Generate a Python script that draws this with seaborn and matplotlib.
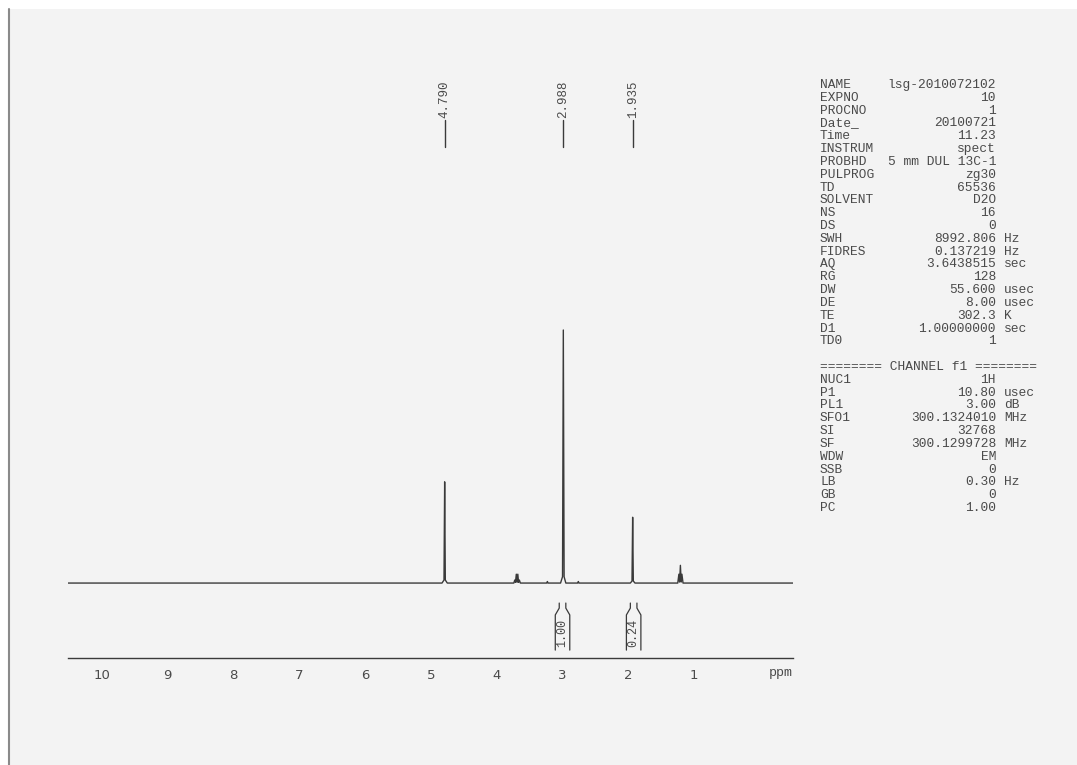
import matplotlib
matplotlib.use("Agg")
import matplotlib.pyplot as plt
import matplotlib.transforms as mtransforms
from matplotlib.ticker import MultipleLocator, FixedLocator, FixedFormatter
import seaborn as sns

# ---------------- data ----------------
# spectrum vertices (ppm, relative intensity; tallest peak = 100)
spec_ppm = [10.51, 4.83, 4.80, 4.790, 4.78, 4.75,
            3.74, 3.725, 3.714, 3.702, 3.690, 3.679, 3.668, 3.656, 3.64,
            3.24, 3.23, 3.22,
            3.03, 3.00, 2.988, 2.976, 2.95,
            2.77, 2.76, 2.75,
            1.97, 1.945, 1.935, 1.925, 1.90,
            1.25, 1.233, 1.222, 1.210, 1.198, 1.187, 1.17,
            -0.50]
spec_int = [0, 0, 1.2, 40, 1.2, 0,
            0, 1.2, 0.3, 3.5, 0.3, 3.5, 0.3, 1.2, 0,
            0, 0.6, 0,
            0, 2.5, 100, 2.5, 0,
            0, 0.6, 0,
            0, 0.8, 26, 0.8, 0,
            0, 3.5, 0.4, 7, 0.4, 3.5, 0,
            0]

peak_pos = [4.790, 2.988, 1.935]
peak_labels = ["4.790", "2.988", "1.935"]

integral_centres = [3.00, 1.92]
integral_labels = ["1.00", "0.24"]

tick_values = [0, 1, 2, 3, 4, 5, 6, 7, 8, 9, 10]
tick_labels = ["", "1", "2", "3", "4", "5", "6", "7", "8", "9", "10"]

param_names = ["NAME", "EXPNO", "PROCNO", "Date_", "Time", "INSTRUM", "PROBHD",
               "PULPROG", "TD", "SOLVENT", "NS", "DS", "SWH", "FIDRES", "AQ",
               "RG", "DW", "DE", "TE", "D1", "TD0"]
param_values = ["lsg-2010072102", "10", "1", "20100721", "11.23", "spect",
                "5 mm DUL 13C-1", "zg30", "65536", "D2O", "16", "0",
                "8992.806", "0.137219", "3.6438515", "128", "55.600", "8.00",
                "302.3", "1.00000000", "1"]
param_units = ["", "", "", "", "", "", "", "", "", "", "", "",
               "Hz", "Hz", "sec", "", "usec", "usec", "K", "sec", ""]

chan_header = "======== CHANNEL f1 ========"
chan_names = ["NUC1", "P1", "PL1", "SFO1", "SI", "SF", "WDW", "SSB", "LB", "GB", "PC"]
chan_values = ["1H", "10.80", "3.00", "300.1324010", "32768", "300.1299728",
               "EM", "0", "0.30", "0", "1.00"]
chan_units = ["", "usec", "dB", "MHz", "", "MHz", "", "", "Hz", "", ""]

# ---------------- figure ----------------
sns.set_style("white")
W, H = 1077, 765
PAPER = "#f3f3f3"
INK = "#3a3a3a"
TXT = "#4a4a4a"
MONO = ["Liberation Mono", "DejaVu Sans Mono"]

fig = plt.figure(figsize=(W / 100, H / 100), dpi=100, facecolor=PAPER)

# scan edge
fig.patches.append(plt.Rectangle((0, 0), 8 / W, 1, transform=fig.transFigure,
                                 facecolor="white", edgecolor="none", zorder=-5))
fig.patches.append(plt.Rectangle((0, 1 - 9 / H), 1, 9 / H, transform=fig.transFigure,
                                 facecolor="white", edgecolor="none", zorder=-5))
fig.lines.append(plt.Line2D([8.5 / W, 8.5 / W], [0, 1 - 9 / H], transform=fig.transFigure,
                            color="#8a8a8a", lw=1.5))

ax_bottom, ax_top = 657.7, 80
ax = fig.add_axes([68 / W, (H - ax_bottom) / H, (793 - 68) / W, (ax_bottom - ax_top) / H])
ax.set_facecolor("none")

sns.lineplot(x=spec_ppm, y=spec_int, ax=ax, color=INK, lw=1.0, estimator=None, sort=True)

ax.set_xlim(10.51, -0.50)
ax.set_ylim(-29.5, 198.8)

for s in ["top", "left", "right"]:
    ax.spines[s].set_visible(False)
ax.spines["bottom"].set_color(INK)
ax.spines["bottom"].set_linewidth(1.0)
ax.set_yticks([])
ax.xaxis.set_major_locator(FixedLocator(tick_values))
ax.xaxis.set_major_formatter(FixedFormatter(tick_labels))
ax.xaxis.set_minor_locator(MultipleLocator(0.1))
ax.tick_params(axis="x", which="major", length=5, width=1, direction="out",
               colors=INK, labelcolor=TXT, labelsize=9.5, pad=3)
ax.tick_params(axis="x", which="minor", length=2.5, width=0.8, direction="out", colors=INK)
ax.set_xlabel("")
ax.set_ylabel("")

blend = mtransforms.blended_transform_factory(ax.transData, ax.transAxes)
axh = ax_bottom - ax_top


def yfrac(py):
    return (ax_bottom - py) / axh


ax.text(-0.32, yfrac(673), "ppm", transform=blend, ha="center", va="center",
        fontsize=9.5, color=TXT, family=MONO)

# peak labels
for p, lab in zip(peak_pos, peak_labels):
    ax.plot([p, p], [yfrac(147), yfrac(120)], transform=blend, color=INK, lw=1.0,
            clip_on=False)
    ax.text(p, yfrac(118), lab, transform=blend, rotation=90, ha="center", va="bottom",
            fontsize=9, color=TXT, family=MONO, clip_on=False)

# integrals
wo, wn = 0.11, 0.05
yb, yw, yn, yt = -26.5, -12.6, -9.9, -7.9
for c, lab in zip(integral_centres, integral_labels):
    ax.plot([c + wo, c + wo, c + wn, c + wn], [yb, yw, yn, yt], color=INK, lw=0.9)
    ax.plot([c - wo, c - wo, c - wn, c - wn], [yb, yw, yn, yt], color=INK, lw=0.9)
    ax.text(c, (yb + yw) / 2 - 0.3, lab, rotation=90, ha="center", va="center",
            fontsize=8.5, color=TXT, family=MONO)

# parameter block
x_name, x_val, x_unit = 820, 996, 1004
y0, dy = 85, 12.82
fs = 9.3


def put(row, name, val, unit):
    y = 1 - (y0 + row * dy) / H
    fig.text(x_name / W, y, name, ha="left", va="center", fontsize=fs, color=TXT, family=MONO)
    fig.text(x_val / W, y, val, ha="right", va="center", fontsize=fs, color=TXT, family=MONO)
    if unit:
        fig.text(x_unit / W, y, unit, ha="left", va="center", fontsize=fs, color=TXT, family=MONO)


for i, (n, v, u) in enumerate(zip(param_names, param_values, param_units)):
    put(i, n, v, u)
row = len(param_names) + 1
fig.text(x_name / W, 1 - (y0 + row * dy) / H, chan_header, ha="left", va="center",
         fontsize=fs, color=TXT, family=MONO)
for j, (n, v, u) in enumerate(zip(chan_names, chan_values, chan_units)):
    put(row + 1 + j, n, v, u)

fig.savefig("out.png", dpi=100, facecolor=PAPER)
